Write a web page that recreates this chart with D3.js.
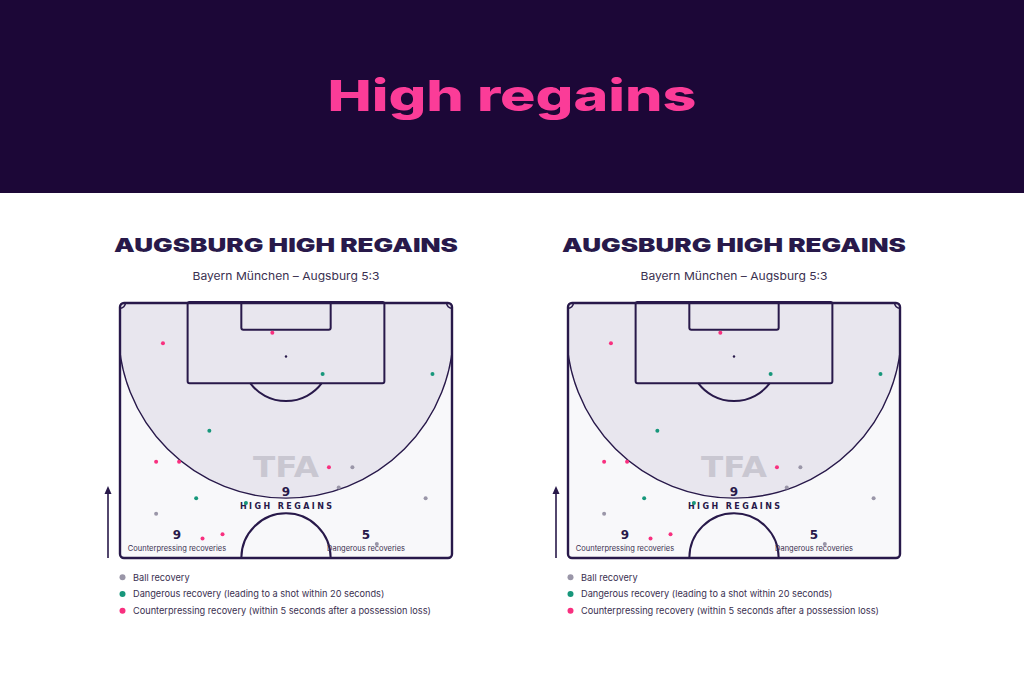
<!DOCTYPE html>
<html><head><meta charset="utf-8">
<script src="https://cdn.jsdelivr.net/npm/d3@7"></script>
<style>html,body{margin:0;padding:0;background:#fff;}svg{display:block;}</style>
</head><body>
<svg id="c" width="1024" height="683"></svg>
<script>
// ---- data (pitch metres: x across 0..68, y from goal line 0..52.5) ----
const pageTitle = "High regains";
const panelTitle = "AUGSBURG HIGH REGAINS";
const matchLabel = "Bayern München – Augsburg 5:3";
const ballX = [47.6, 44.8, 62.6, 7.4, 52.6];
const ballY = [33.8, 38.0, 40.2, 43.4, 49.6];
const dangerX = [41.5, 64.0, 18.3, 15.6, 25.8];
const dangerY = [14.6, 14.6, 26.3, 40.2, 41.2];
const counterX = [8.8, 31.2, 7.4, 12.1, 42.8, 16.9, 21.0];
const counterY = [8.3, 6.1, 32.7, 32.7, 33.8, 48.5, 47.6];
const statValues = [9, 9, 5];
const statLabels = ["HIGH REGAINS", "Counterpressing recoveries", "Dangerous recoveries"];
const legendLabels = ["Ball recovery", "Dangerous recovery (leading to a shot within 20 seconds)", "Counterpressing recovery (within 5 seconds after a possession loss)"];
const typeColors = ["#9a96a8", "#17977b", "#f8307f"];

const svg = d3.select("#c");
const INK = "#28194a";
const FONT = "Inter, 'DejaVu Sans', sans-serif";

svg.append("rect").attr("x",0).attr("y",0).attr("width",1024).attr("height",193).attr("fill","#1c0737");
svg.append("text").attr("x",512).attr("y",111).attr("text-anchor","middle")
  .attr("font-family",FONT).attr("font-weight",800).attr("font-size",43)
  .attr("fill","#fb3c98").attr("textLength",369).attr("lengthAdjust","spacingAndGlyphs").text(pageTitle);

function panel(x0){
  const g = svg.append("g");
  const W = 332, H = 255, top = 303;
  const x = d3.scaleLinear().domain([0,68]).range([x0, x0+W]);
  const y = d3.scaleLinear().domain([0,52.5]).range([top, top+H]);
  const cx = x0 + W/2;
  const k = W/68;

  g.append("text").attr("x",cx).attr("y",252).attr("text-anchor","middle")
    .attr("font-family",FONT).attr("font-weight",900).attr("font-size",19)
    .attr("fill",INK).attr("textLength",344).attr("lengthAdjust","spacingAndGlyphs").text(panelTitle);
  g.append("text").attr("x",cx).attr("y",280).attr("text-anchor","middle")
    .attr("font-family",FONT).attr("font-size",11).attr("fill","#3a3050")
    .attr("textLength",187).attr("lengthAdjust","spacingAndGlyphs").text(matchLabel);

  const cid = "clip"+x0;
  g.append("clipPath").attr("id",cid).append("rect")
    .attr("x",x(0)).attr("y",y(0)).attr("width",W).attr("height",H).attr("rx",4);
  g.append("rect").attr("x",x(0)).attr("y",y(0)).attr("width",W).attr("height",H).attr("rx",4).attr("fill","#f8f8fa");
  g.append("circle").attr("clip-path",`url(#${cid})`)
    .attr("cx",cx).attr("cy",y(5.7)).attr("r",34.3*k)
    .attr("fill","#e8e6ee").attr("stroke",INK).attr("stroke-width",1.4);

  const ln = sel => sel.attr("fill","none").attr("stroke",INK).attr("stroke-width",2);
  // penalty area
  ln(g.append("rect").attr("x",x(34-20.15)).attr("y",y(0)-1).attr("width",40.3*k).attr("height",y(16.5)-y(0)+1).attr("rx",2));
  ln(g.append("rect").attr("x",x(34-9.15)).attr("y",y(0)-1).attr("width",18.3*k).attr("height",y(5.5)-y(0)+1).attr("rx",2));
  // penalty arc
  const r = 9.15*k, sy = y(11), dy = y(16.5)-sy, dx = Math.sqrt(r*r-dy*dy);
  ln(g.append("path").attr("d",`M${cx-dx},${y(16.5)} A${r},${r} 0 0 0 ${cx+dx},${y(16.5)}`));
  g.append("circle").attr("cx",cx).attr("cy",sy).attr("r",1.2).attr("fill",INK);
  // centre circle
  ln(g.append("path").attr("d",`M${cx-r},${y(52.5)} A${r},${r} 0 0 1 ${cx+r},${y(52.5)}`));
  // corner arcs
  const cr = 1*k*1.1;
  ln(g.append("path").attr("d",`M${x(0)},${y(0)+cr} A${cr},${cr} 0 0 0 ${x(0)+cr},${y(0)}`)).attr("stroke-width",1.6);
  ln(g.append("path").attr("d",`M${x(68)-cr},${y(0)} A${cr},${cr} 0 0 0 ${x(68)},${y(0)+cr}`)).attr("stroke-width",1.6);
  // outline
  ln(g.append("rect").attr("x",x(0)).attr("y",y(0)).attr("width",W).attr("height",H).attr("rx",4)).attr("stroke-width",2.4);

  // watermark
  g.append("text").attr("x",cx).attr("y",477).attr("text-anchor","middle")
    .attr("font-family","'DejaVu Sans', sans-serif").attr("font-weight",700).attr("font-size",29)
    .attr("fill","#c9c7d1").attr("textLength",66).attr("lengthAdjust","spacingAndGlyphs").text("TFA");

  // stats
  g.append("text").attr("x",cx).attr("y",496).attr("text-anchor","middle")
    .attr("font-family","'DejaVu Sans', sans-serif").attr("font-weight",700).attr("font-size",12).attr("fill",INK).text(statValues[0]);
  g.append("text").attr("x",cx).attr("y",509).attr("text-anchor","middle")
    .attr("font-family","'DejaVu Sans', sans-serif").attr("font-weight",700).attr("font-size",8).attr("fill",INK)
    .attr("textLength",92).attr("lengthAdjust","spacing").text(statLabels[0]);
  [[57,1],[246,2]].forEach(([dxs,i])=>{
    const sx = x0 + dxs;
    g.append("text").attr("x",sx).attr("y",539).attr("text-anchor","middle")
      .attr("font-family","'DejaVu Sans', sans-serif").attr("font-weight",700).attr("font-size",12).attr("fill",INK).text(statValues[i]);
    g.append("text").attr("x",sx).attr("y",551).attr("text-anchor","middle")
      .attr("font-family",FONT).attr("font-size",7.5).attr("fill","#3a3050").text(statLabels[i]);
  });

  // arrow
  g.append("line").attr("x1",x0-12).attr("x2",x0-12).attr("y1",558).attr("y2",492).attr("stroke",INK).attr("stroke-width",1.6);
  g.append("path").attr("d",`M${x0-15.5},${494} L${x0-12},${486} L${x0-8.5},${494}Z`).attr("fill",INK);

  // points
  const sets = [[ballX,ballY,0],[dangerX,dangerY,1],[counterX,counterY,2]];
  sets.forEach(([xs,ys,t])=>{
    g.append("g").selectAll("circle").data(xs.map((v,i)=>[v,ys[i]])).join("circle")
      .attr("cx",d=>x(d[0])).attr("cy",d=>y(d[1])).attr("r",2).attr("fill",typeColors[t]);
  });

  // legend
  const ly = d3.scaleBand().domain(d3.range(3)).range([569,619]);
  legendLabels.forEach((s,i)=>{
    const yy = ly(i)+ly.bandwidth()/2;
    g.append("circle").attr("cx",x0+2.5).attr("cy",yy).attr("r",3).attr("fill",typeColors[i]);
    g.append("text").attr("x",x0+13).attr("y",yy+3.2).attr("font-family",FONT).attr("font-size",9.2).attr("fill","#3a3050").text(s);
  });
}
panel(120);
panel(568);
</script>
</body></html>
